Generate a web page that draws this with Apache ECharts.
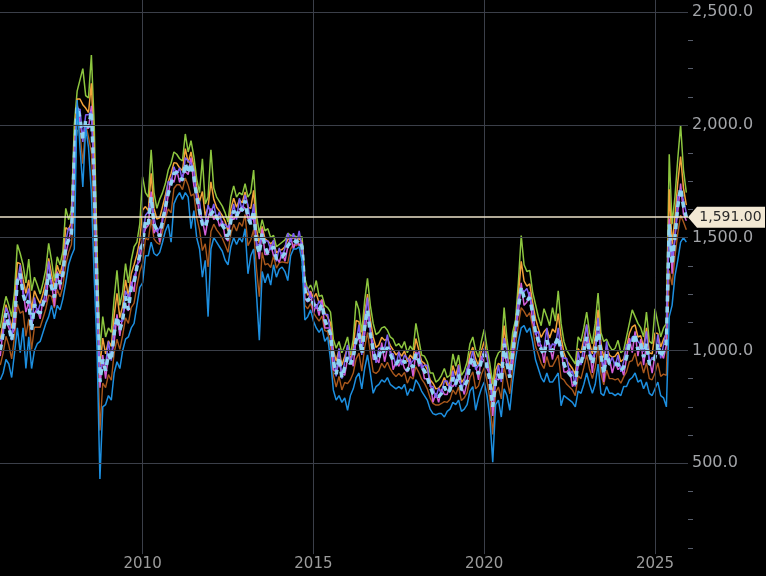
<!DOCTYPE html>
<html><head><meta charset="utf-8">
<script src="https://cdn.jsdelivr.net/npm/echarts@6/dist/echarts.min.js"></script>
<style>html,body{margin:0;padding:0;background:#000;}#c{width:766px;height:576px;}</style>
</head><body><div id="c"></div>
<script>
// monthly observations starting Nov 2005
const startYear = 2005, startMonth = 11;
const yearTicks = [2010, 2015, 2020, 2025];
const priceLevels = [500, 1000, 1500, 2000, 2500];
const xMin = 2005.825, xMax = 2025.966;
const yMin = 0, yMax = 2554;
const lastPrice = 1591;
const lastPriceLabel = '1,591.00';

const greenS = [
1100,1180,1240,1200,1150,1260,1470,1430,1380,1300,
1405,1265,1325,1290,1250,1300,1360,1475,1400,1310,
1415,1380,1440,1630,1580,1620,2000,2150,2200,2250,
2130,2120,2310,2000,1450,1000,1150,1060,1100,1080,
1230,1355,1200,1260,1385,1300,1400,1460,1480,1560,
1770,1700,1680,1890,1700,1630,1670,1700,1740,1800,
1830,1880,1870,1850,1840,1960,1880,1930,1860,1760,
1700,1850,1650,1680,1890,1720,1680,1660,1640,1610,
1570,1680,1730,1680,1700,1690,1740,1680,1700,1800,
1600,1520,1580,1530,1540,1500,1510,1460,1470,1480,
1490,1520,1510,1510,1505,1500,1505,1320,1270,1290,
1260,1310,1240,1245,1200,1190,1170,1050,1010,1040,
990,1020,1060,980,1050,1220,1180,1080,1220,1320,
1200,1120,1070,1080,1100,1105,1090,1060,1050,1020,
1030,1010,1040,990,1020,1000,1120,1050,980,975,
950,900,900,860,870,890,920,880,890,985,
930,980,890,910,950,1030,1060,1000,970,1040,
1095,1010,940,850,960,990,1000,1190,1050,960,
1080,1135,1300,1510,1380,1350,1355,1260,1205,1150,
1110,1185,1150,1110,1190,1130,1265,1120,1040,1000,
980,960,940,1060,1040,1100,1170,1080,1030,1120,
1255,1080,1040,1050,1020,1000,1010,1045,990,1000,
1060,1120,1180,1150,1120,1100,1060,1170,1040,1030,
1185,1120,1060,1100,1120,1870,1560,1680,1850,2000,
1800,1700];

const orangeS = [
1050,1128,1203,1153,1098,1198,1390,1385,1315,1253,
1313,1178,1265,1233,1208,1253,1305,1408,1340,1273,
1378,1338,1390,1545,1535,1570,1925,2115,2115,2090,
2075,2055,2185,1875,1350,930,1055,985,1043,1018,
1153,1253,1145,1198,1313,1240,1340,1380,1425,1490,
1623,1638,1620,1785,1630,1583,1588,1638,1688,1748,
1785,1833,1830,1810,1798,1895,1833,1880,1815,1720,
1660,1705,1598,1635,1748,1670,1635,1618,1598,1573,
1530,1628,1675,1635,1668,1655,1703,1635,1630,1710,
1538,1475,1550,1495,1485,1473,1485,1433,1443,1448,
1460,1493,1495,1500,1493,1495,1483,1293,1245,1263,
1233,1253,1210,1225,1168,1148,1123,1003,953,1005,
935,973,1015,960,1010,1133,1128,1033,1163,1250,
1138,1060,1013,1025,1058,1045,1053,1023,1003,980,
993,975,998,950,980,963,1053,1003,953,943,
915,870,855,830,833,850,880,845,858,933,
890,938,858,875,908,985,1015,963,933,998,
1040,968,903,800,913,943,933,1110,995,920,
1033,1113,1245,1395,1308,1285,1295,1213,1143,1098,
1058,1083,1098,1055,1095,1080,1163,1060,990,955,
938,920,895,1008,990,1050,1115,1033,985,1060,
1180,1033,968,1018,980,970,975,993,950,963,
1015,1075,1105,1113,1060,1065,1015,1100,990,985,
1078,1075,1015,1050,1075,1715,1470,1590,1745,1860,
1720,1645];

const brownS = [
935,988,1063,1023,963,1063,1205,1165,1175,1063,
1140,1005,1103,1103,1103,1143,1185,1245,1240,1188,
1270,1238,1285,1380,1435,1470,1650,2095,1965,1828,
2005,1945,1880,1535,1125,645,855,835,893,868,
988,1050,1005,1068,1145,1120,1190,1210,1285,1350,
1388,1498,1490,1580,1495,1478,1470,1528,1583,1628,
1610,1718,1735,1735,1713,1765,1733,1685,1695,1590,
1535,1443,1473,1370,1528,1560,1535,1518,1498,1468,
1435,1518,1560,1530,1568,1550,1603,1465,1490,1535,
1363,1238,1435,1380,1385,1368,1420,1365,1388,1393,
1390,1388,1450,1470,1465,1475,1430,1200,1185,1208,
1168,1148,1130,1153,1088,1083,1018,890,838,885,
825,858,853,870,900,963,988,908,1013,1080,
988,905,898,910,943,923,948,918,898,885,
898,885,903,855,885,873,928,903,873,855,
830,790,765,758,758,765,773,770,783,825,
805,838,778,790,813,880,905,830,843,893,
923,863,783,628,813,838,785,930,870,808,
923,1025,1115,1190,1173,1150,1168,1103,1020,983,
943,920,973,930,930,955,980,878,870,850,
838,825,800,888,875,925,980,918,875,925,
1023,898,848,913,875,875,870,875,855,883,
905,950,955,988,930,950,900,945,875,870,
900,945,885,895,890,1355,1290,1415,1520,1600,
1570,1535];

const purpleS = [
1040,1070,1190,1160,1045,1165,1300,1380,1245,1230,
1275,1090,1235,1165,1205,1200,1275,1395,1280,1265,
1330,1335,1335,1485,1545,1520,1880,2070,2070,1925,
2045,2045,2060,1780,1240,900,955,935,1040,955,
1105,1140,1130,1130,1265,1235,1280,1330,1360,1460,
1470,1600,1615,1680,1590,1525,1545,1570,1660,1750,
1740,1815,1780,1810,1750,1855,1840,1830,1800,1670,
1660,1555,1570,1645,1605,1650,1580,1615,1550,1560,
1545,1575,1650,1580,1675,1615,1690,1645,1560,1650,
1465,1470,1515,1485,1485,1445,1490,1395,1455,1410,
1455,1520,1480,1520,1470,1530,1455,1290,1275,1235,
1235,1185,1220,1200,1160,1160,1075,985,885,1010,
875,950,1025,940,1000,1035,1115,980,1130,1235,
1075,1030,945,1010,1010,1010,1070,985,985,930,
995,935,980,965,940,955,975,995,920,935,
935,840,840,790,835,805,865,865,825,910,
840,935,820,865,920,940,1000,915,935,950,
1010,980,865,780,855,935,860,1055,995,880,
1015,1080,1230,1275,1260,1275,1235,1195,1070,1085,
1000,1005,1100,1000,1030,1020,1100,995,965,965,
895,910,840,995,935,1025,1115,985,970,990,
1145,980,920,1040,940,970,930,980,905,950,
1025,1030,1060,1065,1040,1025,995,1085,940,970,
960,1070,965,1025,1085,1560,1410,1490,1680,1715,
1665,1610];

const magentaS = [
975,1095,1130,1100,1070,1095,1320,1315,1270,1170,
1215,1115,1165,1185,1140,1225,1215,1335,1305,1195,
1350,1270,1360,1425,1485,1545,1810,2090,2005,1950,
1985,1985,2085,1710,1260,835,980,875,980,980,
1035,1160,1065,1155,1205,1175,1305,1260,1380,1395,
1495,1540,1555,1705,1520,1545,1480,1595,1600,1690,
1765,1745,1800,1745,1775,1795,1780,1855,1730,1690,
1595,1580,1510,1585,1630,1580,1600,1550,1575,1500,
1485,1600,1580,1600,1610,1640,1630,1585,1585,1580,
1485,1405,1540,1425,1425,1470,1420,1415,1390,1435,
1395,1460,1505,1450,1490,1465,1480,1230,1215,1260,
1165,1205,1155,1225,1100,1100,1100,915,905,945,
900,890,965,965,930,1055,1050,1005,1070,1175,
1100,960,965,945,1035,950,1010,1010,915,950,
930,960,920,905,965,885,995,930,945,875,
875,865,770,810,770,830,805,805,850,840,
860,870,845,805,860,965,930,935,870,975,
950,920,890,710,875,870,885,995,935,905,
945,1100,1165,1300,1200,1215,1260,1125,1090,1020,
1025,945,1040,1025,960,1040,1035,1020,905,905,
920,840,860,930,960,965,1055,1010,900,1010,
1080,1005,860,980,965,900,950,915,930,890,
965,1055,990,1085,975,1050,935,1025,965,900,
980,1005,990,965,1025,1585,1340,1510,1615,1740,
1605,1575];

const lightBlueS = [
1000,1075,1165,1105,1045,1135,1310,1340,1250,1205,
1220,1090,1205,1175,1165,1205,1250,1340,1280,1235,
1340,1295,1340,1460,1490,1520,1850,2080,2030,1930,
2020,1990,2060,1750,1250,860,960,910,985,955,
1075,1150,1090,1135,1240,1180,1280,1300,1370,1420,
1475,1575,1560,1680,1560,1535,1505,1575,1635,1695,
1740,1785,1790,1770,1755,1830,1785,1830,1770,1680,
1620,1560,1545,1590,1605,1620,1590,1575,1555,1535,
1490,1575,1620,1590,1635,1620,1665,1590,1560,1620,
1475,1430,1520,1460,1430,1445,1460,1405,1415,1415,
1430,1465,1480,1490,1480,1490,1460,1265,1220,1235,
1205,1195,1180,1205,1135,1105,1075,955,895,970,
880,925,970,940,970,1045,1075,985,1105,1180,
1075,1000,955,970,1015,985,1015,985,955,940,
955,940,955,910,940,925,985,955,925,910,
880,840,810,800,795,810,840,810,825,880,
850,895,825,840,865,940,970,925,895,955,
985,925,865,750,865,895,865,1030,940,880,
985,1090,1190,1280,1235,1220,1235,1165,1080,1045,
1005,980,1045,1000,1000,1030,1060,1000,940,910,
895,880,850,955,940,1000,1060,985,940,1000,
1105,985,895,985,940,940,940,940,910,925,
970,1030,1030,1075,1000,1030,970,1030,940,940,
970,1030,970,1000,1030,1560,1380,1500,1640,1720,
1640,1591];

const blueS = [
870,900,960,940,880,990,1100,990,1100,920,
1060,920,1000,1030,1040,1080,1120,1150,1200,1140,
1200,1180,1230,1300,1380,1420,1450,2110,1900,1725,
1990,1900,1700,1320,1000,430,750,760,800,780,
900,950,920,1000,1050,1060,1100,1120,1200,1280,
1300,1420,1420,1480,1430,1420,1435,1480,1530,1560,
1480,1650,1680,1700,1670,1700,1680,1540,1620,1500,
1450,1325,1400,1150,1450,1500,1480,1460,1440,1400,
1380,1460,1500,1470,1500,1480,1540,1340,1420,1450,
1250,1045,1350,1300,1340,1290,1380,1325,1360,1370,
1350,1310,1420,1450,1450,1460,1400,1135,1150,1180,
1130,1100,1080,1100,1040,1060,960,825,780,800,
770,790,735,800,830,880,900,830,920,980,
900,810,840,850,870,860,880,850,840,830,
840,830,850,800,830,820,870,850,820,800,
780,740,720,715,720,720,705,730,740,770,
760,780,730,740,760,820,840,735,790,830,
860,800,700,505,760,780,705,830,800,735,
860,960,1040,1100,1110,1080,1100,1040,960,920,
880,860,900,860,860,880,900,755,800,790,
780,770,750,820,810,850,900,850,810,850,
940,810,800,840,810,810,800,810,800,840,
840,870,880,900,860,870,830,860,810,800,
830,860,800,790,750,1150,1200,1330,1400,1480,
1500,1480];

const months = lightBlueS.map((_, i) => startYear + (startMonth - 1 + i) / 12);
const pairs = arr => arr.map((v, i) => [months[i], v]);

const FONT = 'DejaVu Sans';
const GRID = '#3b3f49';

const seriesDefs = [
  { name: 'green', data: greenS, color: '#8dc63f', width: 1.5 },
  { name: 'orange', data: orangeS, color: '#f3a33a', width: 1.5 },
  { name: 'brown', data: brownS, color: '#a9581c', width: 1.4 },
  { name: 'magenta', data: magentaS, color: '#d35fd8', width: 1.5 },
  { name: 'purple', data: purpleS, color: '#7d5ff2', width: 1.5 },
  { name: 'lightblue', data: lightBlueS, color: '#8fd3f3', width: 3.5, type: [6, 5] },
  { name: 'blue', data: blueS, color: '#1d8fe0', width: 1.5 }
];

const series = seriesDefs.map(d => ({
  name: d.name, type: 'line', data: pairs(d.data), showSymbol: false, symbol: 'none',
  lineStyle: { color: d.color, width: d.width, type: d.type || 'solid' }, itemStyle: { color: d.color },
  z: 3
}));

// gridlines drawn as marker lines so that they stop where the reference stops
series[0].markLine = {
  silent: true, symbol: ['none', 'none'], label: { show: false }, animation: false,
  lineStyle: { color: GRID, width: 1, type: 'solid' },
  data: yearTicks.map(y => [{ coord: [y, 97] }, { coord: [y, yMax] }])
    .concat(priceLevels.map(p => ({ yAxis: p })))
};
series[0].z = 2;

// last price line and tag
series[series.length - 1].markLine = {
  silent: true, symbol: ['none', 'none'], label: { show: false }, animation: false,
  lineStyle: { color: '#eee3cb', width: 1.5, type: 'solid' },
  data: [{ yAxis: lastPrice }]
};
series[series.length - 1].markPoint = {
  silent: true, animation: false,
  symbol: 'path://M0,10.5 L9,0 L77,0 L77,21 L9,21 Z',
  symbolSize: [77, 21], symbolOffset: [38.5, 0],
  itemStyle: { color: '#f2e8d3' },
  label: { show: true, formatter: lastPriceLabel, color: '#2b2b2b', fontSize: 14, fontFamily: FONT, offset: [4, 0] },
  data: [{ coord: [xMax, lastPrice] }]
};

const fmtY = v => v.toLocaleString('en-US', { minimumFractionDigits: 1, maximumFractionDigits: 1 });

const chart = echarts.init(document.getElementById('c'), null, { renderer: 'canvas' });
chart.setOption({
  backgroundColor: '#000000',
  animation: false,
  grid: { left: 0, right: 78, top: 0, bottom: 0 },
  xAxis: {
    type: 'value', min: xMin, max: xMax, splitNumber: 4,
    axisLine: { show: false }, axisTick: { show: false }, splitLine: { show: false },
    axisLabel: { inside: true, margin: 4, color: '#9c9c9c', fontSize: 15, fontFamily: FONT,
      showMinLabel: false, showMaxLabel: false, formatter: v => String(Math.round(v)) }
  },
  yAxis: {
    type: 'value', position: 'right', min: yMin, max: yMax, splitNumber: 5,
    axisLine: { show: false }, axisTick: { show: false },
    minorTick: { show: true, splitNumber: 4, length: 5, lineStyle: { color: '#575d6a' } },
    splitLine: { show: false },
    axisLabel: { margin: 4, color: '#a2a4a8', fontSize: 16, fontFamily: FONT,
      showMinLabel: false, showMaxLabel: false, formatter: fmtY }
  },
  series: series
});
</script>
</body></html>
